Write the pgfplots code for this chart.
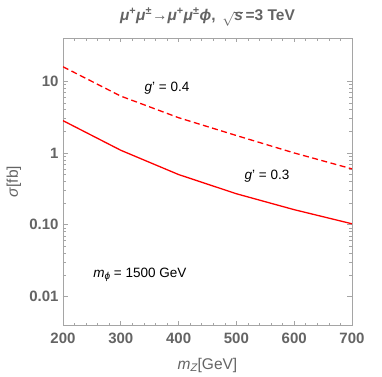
\documentclass[border=0pt]{standalone}
\usepackage{pgfplots}
\pgfplotsset{compat=1.18}
\usepackage{fontspec}
\setmainfont{Liberation Sans}
\definecolor{txtgray}{RGB}{100,100,100}
\definecolor{framegray}{RGB}{165,165,165}
\begin{document}
\begin{tikzpicture}
\useasboundingbox (-63pt,-51pt) rectangle (319pt,325pt);
\begin{axis}[
  at={(0,0)}, anchor=south west,
  scale only axis, width=289pt, height=287pt,
  xmin=200, xmax=700, ymode=log, ymin=0.004, ymax=40,
  xtick={200,300,400,500,600,700},
  minor x tick num=4,
  ytick={0.01,0.1,1,10},
  yticklabels={0.01,0.10,1,10},
  /pgf/number format/assume math mode=true,
  tick align=inside,
  major tick length=4.5pt, minor tick length=2.5pt,
  axis line style={framegray, line width=0.8pt},
  every tick/.style={framegray, line width=0.6pt},
  tick label style={font=\fontsize{15}{17}\selectfont\bfseries, text=txtgray},
  xticklabel style={anchor=base, yshift=-18.5pt},
  yticklabel style={anchor=east, xshift=-1pt},
  xlabel={\textit{m}\raisebox{-0.35ex}{\fontsize{11}{12}\selectfont\textit{Z}}[GeV]},
  ylabel={\textit{σ}[fb]},
  label style={font=\fontsize{15.5}{17}\selectfont, text=txtgray},
  xlabel style={at={(0.5,0)}, anchor=base, yshift=-44pt},
  ylabel style={at={(0,0.5)}, anchor=base, yshift=45pt},
  title={\textit{μ}\textsuperscript{+}\textit{μ}\textsuperscript{±}→\textit{μ}\textsuperscript{+}\textit{μ}\textsuperscript{±}\textit{ϕ}, \,$\sqrt{\smash{\textit{s}}}$\,=3 TeV},
  title style={font=\fontsize{15.5}{17}\selectfont\bfseries, text=txtgray, inner sep=0pt, at={(0.5,1)}, anchor=base, yshift=12pt},
  clip=true,
]
\addplot[red, line width=1.3pt] coordinates {
 (200,2.82) (300,1.09) (400,0.50) (500,0.27) (600,0.162) (700,0.103)};
\addplot[red, line width=1.3pt, dash pattern=on 6pt off 3.5pt] coordinates {
 (200,15.9) (300,6.2) (400,3.1) (500,1.75) (600,1.0) (700,0.60)};
\node[font=\fontsize{13.5}{15}\selectfont] at (axis cs:380,8.1) {\textit{g}' = 0.4};
\node[font=\fontsize{13.5}{15}\selectfont] at (axis cs:553,0.47) {\textit{g}' = 0.3};
\node[font=\fontsize{13.5}{15}\selectfont] at (axis cs:333,0.02) {\textit{m}\raisebox{-0.4ex}{\fontsize{10}{11}\selectfont\textit{ϕ}} = 1500 GeV};
\end{axis}
\end{tikzpicture}
\end{document}
